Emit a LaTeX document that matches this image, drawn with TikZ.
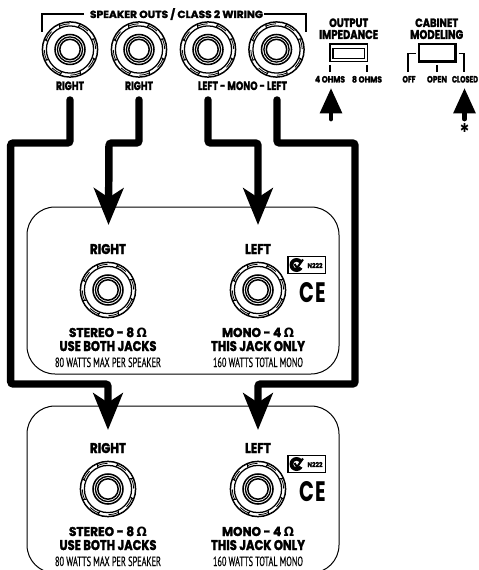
\documentclass[tikz,border=0pt]{standalone}
\usepackage{fontspec}
\usepackage{graphicx}
\usetikzlibrary{arrows.meta}
\newfontfamily\hvb{Poppins}[BoldFeatures={FakeBold=2.2}]
\newfontfamily\hvc{Poppins}
\newfontfamily\djv{DejaVu Sans}
\newfontfamily\nrw{PT Sans}[FakeBold=.6]
\newdimen\pxu \pxu=.75pt
\newcommand\hvy[3]{\resizebox{#1\pxu}{#2\pxu}{\hvb\bfseries #3}}
\newcommand\nar[3]{\resizebox{#1\pxu}{#2\pxu}{\nrw #3}}
\newcommand\omg{{\djv\bfseries Ω}}
\tikzset{
 txt/.style={anchor=base,inner sep=0pt,outer sep=0pt},
 cable/.style={line width=5.6pt,line cap=round,rounded corners=2pt,-{Stealth[length=27.5pt,width=22pt,inset=7pt]}},
 uparrow/.style={line width=3.6pt,line cap=round,-{Stealth[length=19pt,width=16pt,inset=0pt]}},
 thin line/.style={line width=.75pt},
 jack/.pic={
  \draw[line width=1.1pt] (0,0) circle (27.6);
  \draw[line width=.95pt] (0,0) circle (23.6);
  \foreach \a in {20,65,...,335}{
    \draw[line width=.6pt] (\a:25.7) arc (\a:\a+24:25.7);
    \draw[line width=.8pt] (\a:24) -- (\a+2:27.4);
  }
  \draw[line width=1.15pt] (0,0) circle (15);
  \draw[line width=1pt] (0,0) circle (12.6);
  \draw[line width=1.15pt] (0,0) circle (10.2);
 }
}
\newcommand\panel[1]{%
\begin{scope}[shift={(0,#1)}]
 \draw[thin line,rounded corners=21pt] (27,207) rectangle (339,374);
 \node[txt] at (108,254) {\hvy{36}{10}{RIGHT}};
 \node[txt] at (258,254) {\hvy{26}{10}{LEFT}};
 \pic at (108,290) {jack};
 \pic at (258,290) {jack};
 \node[txt] at (108,337) {\hvy{78}{9.5}{STEREO - 8 \omg}};
 \node[txt] at (108,351) {\hvy{97}{10}{USE BOTH JACKS}};
 \node[txt] at (108,367) {\nar{106}{9.5}{80 WATTS MAX PER SPEAKER}};
 \node[txt] at (258,337) {\hvy{72}{9.5}{MONO - 4 \omg}};
 \node[txt] at (258,351) {\hvy{94}{10}{THIS JACK ONLY}};
 \node[txt] at (258,367) {\nar{90}{9.5}{160 WATTS TOTAL MONO}};
 % approval mark
 \draw[line width=1.1pt] (288,256.5) rectangle (325.5,273.5);
 \fill (296.5,265) circle (7);
 \fill[white] (296.5,265) circle (3.2);
 \fill[white] (296.5,265) -- (305,260) -- (305,270) -- cycle;
 \draw[line width=1.5pt] (294.5,264) -- (297,268) -- (303,259.5);
 \node[txt] at (315,268) {\hvy{15}{5}{N222}};
 \node[txt] at (313,302) {\resizebox{27\pxu}{20\pxu}{\hvc\bfseries C\kern.08em E}};
\end{scope}}
\begin{document}
\begin{tikzpicture}[x=.75pt,y=-.75pt]
\useasboundingbox (0,0) rectangle (478,570);
\panel{0}
\panel{199}
% header
\node[txt] (title) at (176.5,18) {\hvy{173}{9.8}{SPEAKER OUTS / CLASS 2 WIRING}};
\coordinate (bl) at (84,14);
\coordinate (br) at (264,14);
\draw[line width=.85pt] (bl) -- (42,14) -- (42,32);
\draw[line width=.85pt] (br) -- (306,14) -- (306,32);
\foreach \x in {70,139,208,276.5} \pic at (\x,49.5) {jack};
\node[txt] at (70,90) {\hvy{28}{8.5}{RIGHT}};
\node[txt] at (139,90) {\hvy{28}{8.5}{RIGHT}};
\node[txt] at (242.5,90) {\hvy{89}{8.5}{LEFT - MONO - LEFT}};
% output impedance
\node[txt] at (348.7,27) {\hvy{39}{8.5}{OUTPUT}};
\node[txt] at (348.7,39) {\hvy{59}{9}{IMPEDANCE}};
\draw[line width=1.2pt] (330,44) rectangle (367.5,61.5);
\draw[line width=.9pt] (333,48.5) rectangle (364.5,58.5);
\draw[line width=.85pt] (330,65) -- (330,72);
\draw[line width=.85pt] (367,65) -- (367,72);
\node[txt] at (330,82.5) {\hvy{30}{6.5}{4 OHMS}};
\node[txt] at (367,82.5) {\hvy{30}{6.5}{8 OHMS}};
\coordinate (ua1) at (331,119);
\coordinate (ua1t) at (331,88);
\draw[uparrow] (ua1) -- (ua1t);
% cabinet modeling
\node[txt] at (436.7,27) {\hvy{43}{8.5}{CABINET}};
\node[txt] at (436.7,39) {\hvy{53}{9}{MODELING}};
\draw[line width=1.9pt] (419,44) rectangle (455.5,61.5);
\draw[line width=.85pt] (408,72) -- (408,53.5) -- (416,53.5);
\draw[line width=.85pt] (458.5,53.5) -- (464,53.5) -- (464,72);
\draw[line width=.85pt] (437,65) -- (437,72);
\node[txt] at (409,82.5) {\hvy{13}{6.5}{OFF}};
\node[txt] at (437,82.5) {\hvy{20}{6.5}{OPEN}};
\node[txt] at (465,82.5) {\hvy{26}{6.5}{CLOSED}};
\coordinate (ua2) at (464.5,119);
\coordinate (ua2t) at (464.5,88);
\draw[uparrow] (ua2) -- (ua2t);
\node[anchor=center,inner sep=0pt] (star) at (464.5,128.5) {\resizebox{9\pxu}{9\pxu}{\djv ✱}};
% cables
\coordinate (o1) at (70,100);
\coordinate (o2) at (139,100);
\coordinate (o3) at (208,100);
\coordinate (o4) at (277,100);
\coordinate (i1) at (108.5,225);
\coordinate (i2) at (258,225);
\coordinate (i3) at (108,430);
\coordinate (i4) at (258,430);
\draw[cable] (o2) -- (139,143) -- (109,143) -- (i1);
\draw[cable] (o3) -- (208,143) -- (258,143) -- (i2);
\draw[cable] (o1) -- (70,143) -- (10.7,143) -- (10.7,384) -- (108,384) -- (i3);
\draw[cable] (o4) -- (277,143) -- (355,143) -- (355,384) -- (258,384) -- (i4);
\end{tikzpicture}
\end{document}
